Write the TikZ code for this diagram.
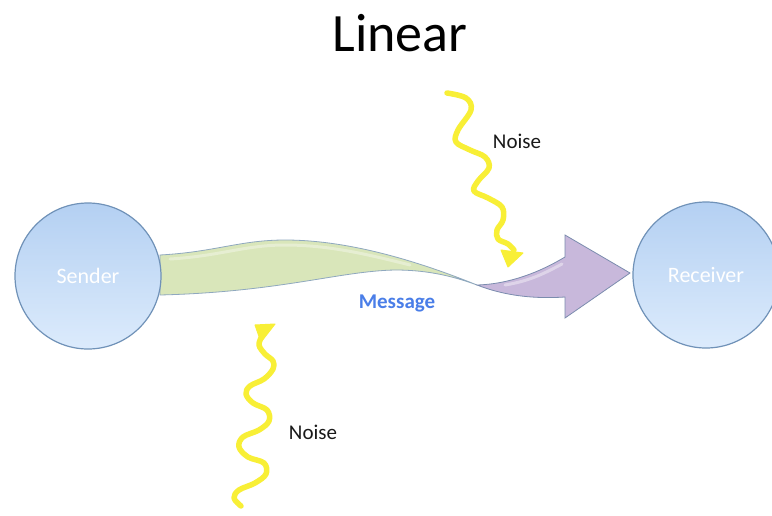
\documentclass[tikz,border=0pt]{standalone}
\usepackage{fontspec}
\setmainfont{Carlito}
\usetikzlibrary{calc}
\definecolor{cfill1}{HTML}{B4D0F2}
\definecolor{cfill2}{HTML}{DCEBFC}
\definecolor{cedge}{HTML}{7092B8}
\definecolor{gfill}{HTML}{D9E6BA}
\definecolor{gedge}{HTML}{8FA8BF}
\definecolor{pfill}{HTML}{C8B8DB}
\definecolor{pedge}{HTML}{7B8CAE}
\definecolor{noisey}{HTML}{F8EF36}
\definecolor{msgblue}{HTML}{4A7EE8}
\tikzset{
  party/.style={circle, minimum size=146pt, inner sep=0pt, draw=cedge, line width=1.2pt,
    top color=cfill1, bottom color=cfill2, text=white, font=\fontsize{22}{24}\selectfont},
  wave/.style={draw=noisey, line width=5.5pt, line cap=round, line join=round},
  wavehead/.style={fill=noisey, draw=noisey, line width=1pt, line join=round},
  lbl/.style={font=\fontsize{21}{24}\selectfont, text=black!90},
}
\begin{document}
\begin{tikzpicture}[x=1pt,y=-1pt]
\useasboundingbox (0,0) rectangle (772,515);
\fill[white] (0,0) rectangle (772,515);
% title
\node[font=\fontsize{54}{60}\selectfont, text=black] (title) at (400,33) {Linear};
% green ribbon
\coordinate (pinch) at (477,285);
\filldraw[fill=gfill, draw=gedge, line width=0.8pt]
  (160,255) .. controls (215,252) and (240,240) .. (285,240)
  .. controls (350,240) and (420,262) .. (pinch)
  .. controls (455,277) and (430,270) .. (395,270)
  .. controls (340,271) and (280,292) .. (160,295) -- cycle;
\draw[white, opacity=0.35, line width=3pt, line cap=round]
  (170,259) .. controls (220,256) and (245,245) .. (285,245)
  .. controls (330,245) and (370,255) .. (410,265);
% purple arrow
\filldraw[fill=pfill, draw=pedge, line width=0.8pt]
  (pinch) .. controls (510,284) and (540,272) .. (565,257)
  -- (565,235) -- (630,273) -- (565,318) -- (565,297)
  .. controls (535,299) and (505,296) .. (pinch) -- cycle;
\draw[white, opacity=0.4, line width=3pt, line cap=round]
  (505,285) .. controls (530,281) and (545,273) .. (562,264);
% nodes
\node[party] (sender) at (88,276) {Sender};
\node[party] (receiver) at (706,275) {Receiver};
\node[font=\bfseries\fontsize{21}{24}\selectfont, text=msgblue] (msg) at (397,303) {Message};
% top noise
\draw[wave] plot[smooth, tension=0.6] coordinates {
  (447,93) (466,98) (471,110) (458,130) (456,142) (470,150) (485,157) (489,168)
  (478,181) (474,191) (488,198) (502,207) (503,220) (497,230) (498,239) (508,244) (514,250)};
\filldraw[wavehead] (501,250) -- (523,253) -- (508,267) -- cycle;
\node[lbl] (noise1) at (517,141) {Noise};
% bottom noise
\draw[wave] plot[smooth, tension=0.6] coordinates {
  (262,336) (259,345) (265,354) (273,361) (273,369) (264,379) (250,386) (246,394)
  (253,403) (267,410) (269,421) (259,430) (243,437) (239,447) (248,457) (264,463)
  (266,474) (255,483) (239,490) (234,498) (241,506)};
\filldraw[wavehead] (255,325) -- (275,324) -- (261,342) -- cycle;
\node[lbl] (noise2) at (313,432) {Noise};
\end{tikzpicture}
\end{document}
